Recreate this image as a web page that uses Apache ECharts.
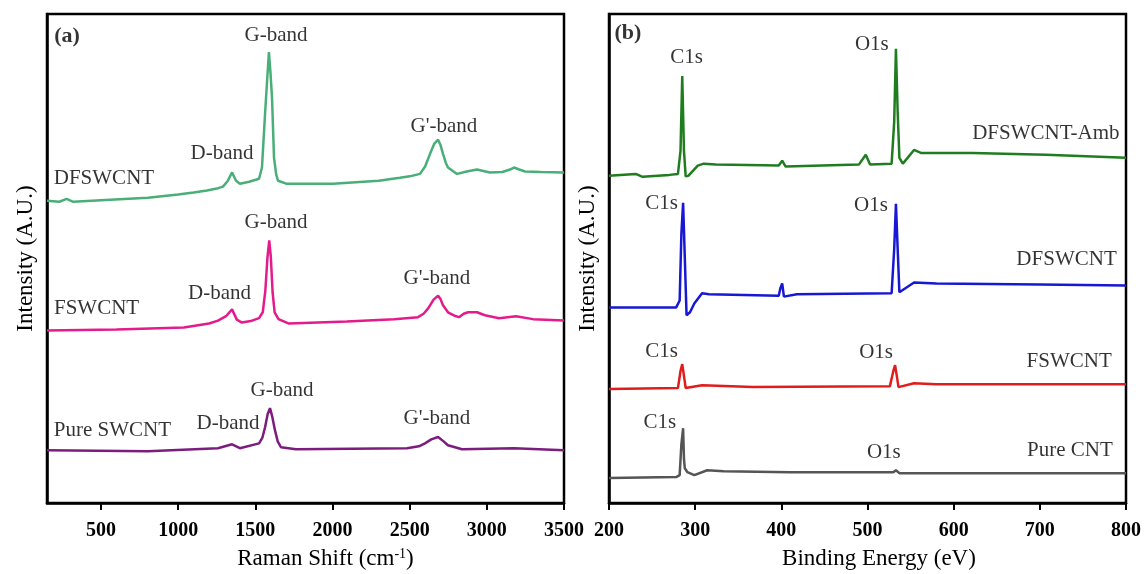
<!DOCTYPE html>
<html>
<head>
<meta charset="UTF-8">
<title>Raman / XPS</title>
<style>
  html, body { margin: 0; padding: 0; background: #fff; }
  #chart { width: 1144px; height: 574px; }
</style>
</head>
<body>
<div id="chart"></div>
<script src="https://cdn.jsdelivr.net/npm/echarts/dist/echarts.min.js"></script>
<script>
// (a) Raman spectra: [shift cm-1, intensity a.u.]
var ramanDF = [[150,61.8],[230,61.6],[277,62.2],[320,61.6],[500,61.9],[804,62.4],[1000,63.1],[1100,63.5],[1187,63.9],[1250,64.3],[1290,64.7],[1320,65.8],[1349,67.6],[1375,65.9],[1400,65.3],[1460,65.7],[1524,66.3],[1543,68.6],[1563,79.6],[1576,86.3],[1588,92.2],[1598,88],[1608,82.9],[1621,70.6],[1635,67.2],[1647,65.9],[1700,65.3],[2003,65.3],[2300,65.9],[2437,66.5],[2500,66.8],[2567,67.3],[2600,68.8],[2632,71.4],[2660,73.5],[2684,74.3],[2700,73.2],[2716,71.4],[2735,69.5],[2748,68.6],[2807,67.3],[2870,67.8],[2936,68.2],[3020,67.6],[3100,67.7],[3150,68.2],[3176,68.6],[3210,68.2],[3247,67.8],[3350,67.7],[3500,67.6]];
var ramanF = [[150,35.3],[600,35.5],[1037,35.9],[1200,36.7],[1258,37.3],[1310,38.2],[1349,39.6],[1380,37.5],[1413,36.9],[1470,37.2],[1524,37.8],[1548,39.0],[1565,43.5],[1578,50.0],[1590,53.7],[1600,50.5],[1612,43.0],[1625,39.0],[1650,37.6],[1718,36.7],[2093,37.1],[2400,37.6],[2554,38.0],[2590,38.7],[2620,39.8],[2655,41.6],[2684,42.4],[2700,41.7],[2715,40.5],[2748,39.0],[2790,38.3],[2820,38.0],[2850,38.7],[2878,39.0],[2936,39.0],[2988,38.4],[3079,37.8],[3189,38.2],[3299,37.6],[3500,37.3]];
var ramanPure = [[150,10.8],[804,10.6],[1258,11.2],[1349,12.0],[1400,11.2],[1524,12.2],[1545,13.3],[1563,15.5],[1580,18.2],[1595,19.4],[1610,17.6],[1627,14.9],[1645,12.6],[1666,11.4],[1763,11.0],[2483,11.2],[2560,11.6],[2599,12.2],[2640,13.0],[2684,13.5],[2720,12.6],[2748,11.8],[2839,11.0],[3176,11.2],[3500,10.8]];
var ramanTicks = [500, 1000, 1500, 2000, 2500, 3000, 3500];

// (b) XPS survey: [binding energy eV, intensity a.u.]
var xpsAmb = [[200,66.9],[231,67.3],[239,66.7],[270,67.1],[280,67.3],[283,72],[285,87.3],[287,72],[289,66.8],[292,66.9],[303,69.0],[310,69.4],[324,69.2],[397,69.0],[401,70.0],[405,68.8],[490,69.2],[498,71.2],[503,69.2],[528,69.4],[531,78],[533,92.9],[535,80],[537,70.6],[541,69.4],[554,72.2],[562,71.6],[622,71.6],[707,71.2],[800,70.6]];
var xpsDF = [[200,40.0],[278,40.0],[282,41.4],[284,55],[286,61.4],[288,50],[290,38.4],[294,39.0],[299,40.8],[308,42.9],[316,42.7],[397,42.4],[399,44],[401,44.9],[403,42.2],[418,42.7],[528,42.9],[531,52],[533,61.2],[535,52],[537,43.1],[539,42.7],[554,45.1],[580,44.9],[700,44.7],[800,44.5]];
var xpsF = [[200,23.3],[280,23.5],[283,27],[285,28.4],[287,26],[289,23.5],[291,23.1],[308,24.1],[367,23.7],[526,23.9],[530,27],[532,28.2],[534,26],[536,23.7],[554,24.5],[580,24.3],[800,24.3]];
var xpsPure = [[200,5.1],[278,5.3],[282,5.7],[284,12],[286,15.3],[287,9],[288,7.1],[291,6.3],[299,5.7],[314,6.7],[333,6.5],[410,6.3],[530,6.3],[533,6.7],[537,6.1],[800,6.1]];

// text annotations (data units)
var notesA = [['G-band',1634,95.7],['D-band',1284,71.4],["G'-band",2722,76.9],['DFSWCNT',519,66.3],
  ['G-band',1634,57.3],['D-band',1268,42.9],["G'-band",2677,45.9],['FSWCNT',471,39.8],
  ['G-band',1673,23.1],['D-band',1323,16.3],["G'-band",2677,17.3],['Pure SWCNT',574,14.9]];
var notesB = [['C1s',290,91.2],['O1s',505,93.7],['DFSWCNT-Amb',707,75.5],
  ['C1s',261,61.2],['O1s',504,60.8],['DFSWCNT',731,49.8],
  ['C1s',261,31.0],['O1s',510,30.8],['FSWCNT',734,29.0],
  ['C1s',259,16.5],['O1s',519,10.4],['Pure CNT',735,10.8]];
var tags = [['(a)',280,95.5,0],['(b)',222,96.1,1]];

var FONT = 'Liberation Serif';
var chart = echarts.init(document.getElementById('chart'));

function line(data, color, idx) {
  return { type: 'line', xAxisIndex: idx, yAxisIndex: idx, data: data, symbol: 'none',
    lineStyle: { color: color, width: 2.5 }, itemStyle: { color: color }, silent: true };
}
function notes(list, idx, bold) {
  return { type: 'scatter', xAxisIndex: idx, yAxisIndex: idx, symbolSize: 1, silent: true,
    itemStyle: { color: 'rgba(0,0,0,0)' },
    data: list.map(function (d) { return { name: d[0], value: [d[1], d[2]] }; }),
    label: { show: true, position: 'inside', formatter: '{b}', color: '#000',
      fontFamily: FONT, fontSize: bold ? 22 : 21, fontWeight: bold ? 'bold' : 'normal' } };
}
function xAx(idx, min, max, name, pad) {
  return { type: 'value', gridIndex: idx, min: min, max: max,
    name: name, nameLocation: 'middle', nameGap: 44,
    nameTextStyle: { fontFamily: FONT, fontSize: 23, color: '#000', padding: [0, 0, 0, pad],
      rich: { sup: { fontFamily: FONT, fontSize: 14, verticalAlign: 'top', color: '#000' } } },
    axisLine: { show: true, lineStyle: { color: '#000', width: 2.5 } },
    axisTick: { show: true, inside: false, length: 7, lineStyle: { color: '#000', width: 2 } },
    axisLabel: { fontFamily: FONT, fontSize: 20, fontWeight: 'bold', color: '#000', margin: 18,
      formatter: function (v) { return String(v); } },
    splitLine: { show: false } };
}
function yAx(idx) {
  return { type: 'value', gridIndex: idx, min: 0, max: 100,
    name: 'Intensity (A.U.)', nameLocation: 'middle', nameGap: 10,
    nameTextStyle: { fontFamily: FONT, fontSize: 23, color: '#000' },
    axisLine: { show: true, lineStyle: { color: '#000', width: 2.5 } },
    axisTick: { show: false }, axisLabel: { show: false }, splitLine: { show: false } };
}

var xa = xAx(0, 150, 3500, 'Raman Shift (cm{sup|-1})', 40);
xa.axisTick.customValues = ramanTicks;
xa.axisLabel.customValues = ramanTicks;
var xb = xAx(1, 200, 800, 'Binding Energy (eV)', 23);
xb.interval = 100;

var option = {
  backgroundColor: '#fff',
  animation: false,
  grid: [
    { left: 47, right: 580, top: 14, bottom: 71, show: true, borderColor: '#000', borderWidth: 2.5,
      containLabel: false, outerBoundsMode: 'none' },
    { left: 609, right: 18, top: 14, bottom: 71, show: true, borderColor: '#000', borderWidth: 2.5,
      containLabel: false, outerBoundsMode: 'none' }
  ],
  xAxis: [xa, xb],
  yAxis: [yAx(0), yAx(1)],
  series: [
    line(ramanDF, '#4aae78', 0),
    line(ramanF, '#e31b8b', 0),
    line(ramanPure, '#7c1d7e', 0),
    line(xpsAmb, '#1f7d1f', 1),
    line(xpsDF, '#1717d4', 1),
    line(xpsF, '#e01c1c', 1),
    line(xpsPure, '#555555', 1),
    notes(notesA, 0, false),
    notes(notesB, 1, false),
    notes(tags.filter(function (t) { return t[3] === 0; }), 0, true),
    notes(tags.filter(function (t) { return t[3] === 1; }), 1, true)
  ]
};
chart.setOption(option);
</script>
</body>
</html>
